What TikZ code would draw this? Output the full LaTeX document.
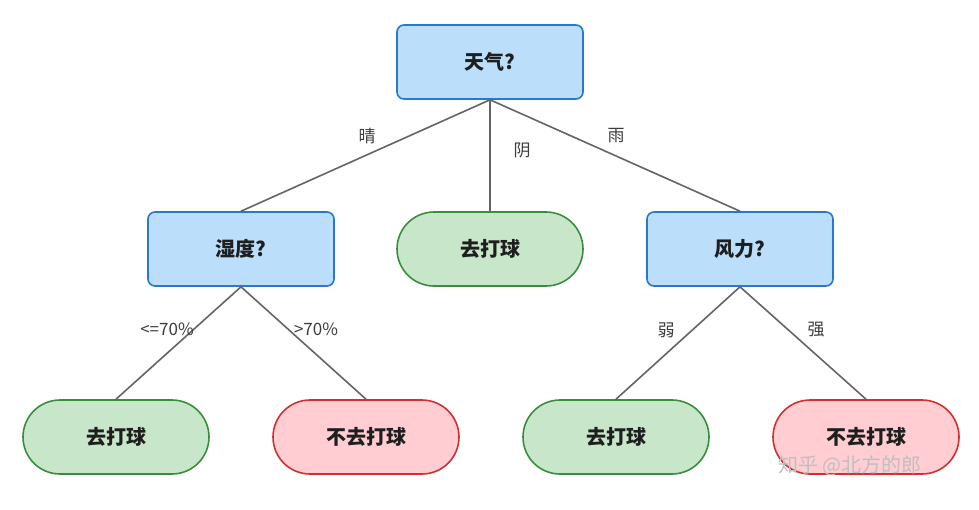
\documentclass[tikz,border=0pt]{standalone}
\usepackage{fontspec}
\setmainfont{Noto Sans CJK SC}
\begin{document}
\begin{tikzpicture}[x=1pt,y=-1pt,
 q/.style={draw={rgb,255:red,40;green,120;blue,205},fill={rgb,255:red,187;green,222;blue,251},line width=1.6pt,rounded corners=7pt,minimum width=186pt,minimum height=74pt,font=\fontsize{20}{22}\selectfont\bfseries,text={rgb,255:red,30;green,30;blue,30}},
 yes/.style={draw={rgb,255:red,56;green,142;blue,60},fill={rgb,255:red,200;green,230;blue,201},line width=1.6pt,rounded corners=37pt,minimum width=186pt,minimum height=74pt,font=\fontsize{20}{22}\selectfont\bfseries,text={rgb,255:red,30;green,30;blue,30}},
 no/.style={draw={rgb,255:red,211;green,47;blue,47},fill={rgb,255:red,255;green,205;blue,210},line width=1.6pt,rounded corners=37pt,minimum width=186pt,minimum height=74pt,font=\fontsize{20}{22}\selectfont\bfseries,text={rgb,255:red,30;green,30;blue,30}},
 e/.style={draw={rgb,255:red,100;green,100;blue,100},line width=1.6pt},
 lb/.style={font=\fontsize{17}{19}\selectfont,text={rgb,255:red,60;green,60;blue,60}}]
\useasboundingbox (0,0) rectangle (979,509);
\node[q] (w) at (490,62) {天气?};
\node[q] (h) at (241,249) {湿度?};
\node[yes] (c) at (490,249) {去打球};
\node[q] (f) at (740,249) {风力?};
\node[yes] (b1) at (116,437) {去打球};
\node[no] (b2) at (366,437) {不去打球};
\node[yes] (b3) at (616,437) {去打球};
\node[no] (b4) at (866,437) {不去打球};
\draw[e] (w.south) -- (h.north);
\draw[e] (w.south) -- (c.north);
\draw[e] (w.south) -- (f.north);
\draw[e] (h.south) -- (b1.north);
\draw[e] (h.south) -- (b2.north);
\draw[e] (f.south) -- (b3.north);
\draw[e] (f.south) -- (b4.north);
\node[lb] (l1) at (367,136) {晴};
\node[lb] (l2) at (522,150) {阴};
\node[lb] (l3) at (616,136) {雨};
\node[lb] (l4) at (167,329) {<=70\%};
\node[lb] (l5) at (316,329) {>70\%};
\node[lb] (l6) at (666,330) {弱};
\node[lb] (l7) at (816,330) {强};
\node[font=\fontsize{20}{22}\selectfont,text=black!25] (wm) at (850,466) {知乎 @北方的郎};
\end{tikzpicture}
\end{document}
